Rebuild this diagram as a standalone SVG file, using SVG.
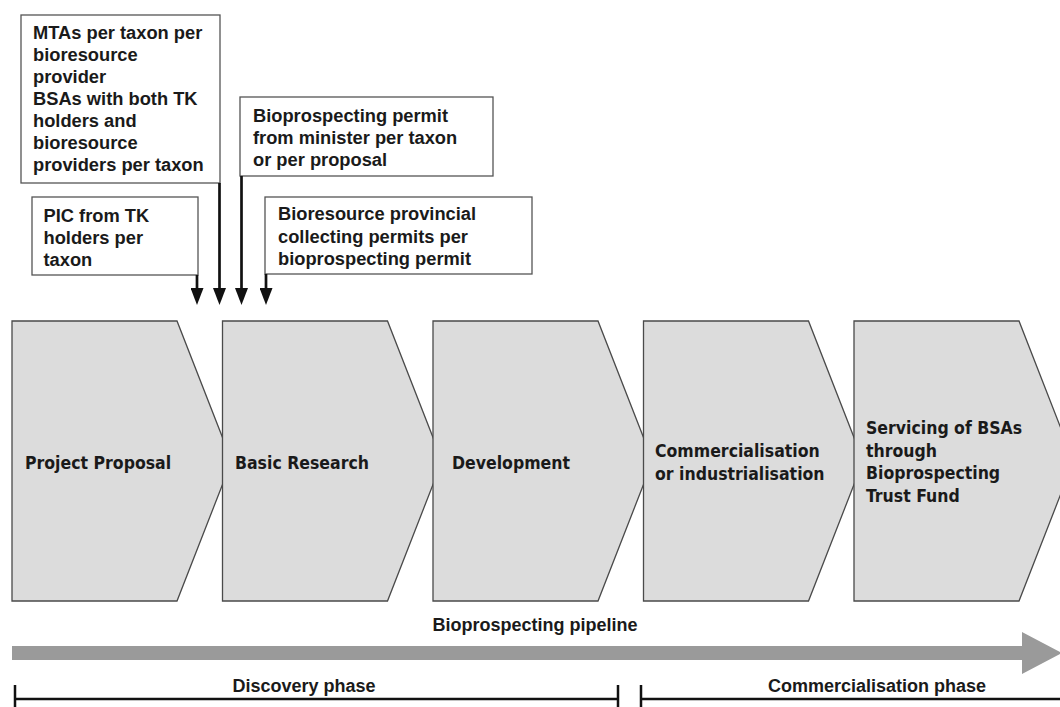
<svg xmlns="http://www.w3.org/2000/svg" width="1060" height="707" viewBox="0 0 1060 707">
<style>
.chev{fill:#dcdcdc;stroke:#4a4a4a;stroke-width:1.3}
.ct{font-family:"DejaVu Sans Condensed","DejaVu Sans",Tahoma,sans-serif;font-stretch:condensed;font-weight:bold;font-size:17.5px;fill:#1a1a1a}
.box{fill:#ffffff;stroke:#555555;stroke-width:1.3}
.bt{font-family:"Liberation Sans",Arial,sans-serif;font-weight:bold;font-size:18.3px;fill:#1a1a1a}
.conn{stroke:#111111;stroke-width:2.7;fill:none}
.brk{stroke:#111111;stroke-width:2.5;fill:none}
.lt{font-family:"Liberation Sans",Arial,sans-serif;font-weight:bold;font-size:18px;fill:#1a1a1a;text-anchor:middle}
</style>
<defs>
<marker id="ah" markerUnits="userSpaceOnUse" markerWidth="17" markerHeight="13" refX="2" refY="6.5" orient="auto" viewBox="0 0 17 13">
<path d="M0,0 L17,6.5 L0,13 Z" fill="#111111"/>
</marker>
</defs>
<rect width="1060" height="707" fill="#ffffff"/>

<g id="stage1">
<path class="chev" d="M12,321 H177 L231.7,461 L177,601 H12 Z"/>
<text class="ct" x="25" y="469">Project Proposal</text>
</g>
<g id="stage2">
<path class="chev" d="M222.5,321 H387.5 L442.2,461 L387.5,601 H222.5 Z"/>
<text class="ct" x="235" y="469">Basic Research</text>
</g>
<g id="stage3">
<path class="chev" d="M433,321 H598 L652.7,461 L598,601 H433 Z"/>
<text class="ct" x="452" y="469">Development</text>
</g>
<g id="stage4">
<path class="chev" d="M643.5,321 H808.5 L863.2,461 L808.5,601 H643.5 Z"/>
<text class="ct" x="655" y="457">Commercialisation</text>
<text class="ct" x="655" y="480">or industrialisation</text>
</g>
<g id="stage5">
<path class="chev" d="M854,321 H1019 L1073.7,461 L1019,601 H854 Z"/>
<text class="ct" x="866" y="434">Servicing of BSAs</text>
<text class="ct" x="866" y="456.5">through</text>
<text class="ct" x="866" y="479">Bioprospecting</text>
<text class="ct" x="866" y="501.5">Trust Fund</text>
</g>

<g id="req-mta">
<rect class="box" x="21" y="15" width="199" height="168"/>
<text class="bt" x="33" y="39">MTAs per taxon per</text>
<text class="bt" x="33" y="61">bioresource</text>
<text class="bt" x="33" y="83">provider</text>
<text class="bt" x="33" y="105">BSAs with both TK</text>
<text class="bt" x="33" y="127">holders and</text>
<text class="bt" x="33" y="149">bioresource</text>
<text class="bt" x="33" y="171">providers per taxon</text>
</g>
<g id="req-pic">
<rect class="box" x="32" y="197" width="166" height="78"/>
<text class="bt" x="43.5" y="221.5">PIC from TK</text>
<text class="bt" x="43.5" y="243.5">holders per</text>
<text class="bt" x="43.5" y="265.5">taxon</text>
</g>
<g id="req-permit">
<rect class="box" x="240" y="97" width="253" height="79"/>
<text class="bt" x="253" y="122">Bioprospecting permit</text>
<text class="bt" x="253" y="144">from minister per taxon</text>
<text class="bt" x="253" y="166">or per proposal</text>
</g>
<g id="req-provincial">
<rect class="box" x="265" y="197" width="267" height="77"/>
<text class="bt" x="278" y="220">Bioresource provincial</text>
<text class="bt" x="278" y="242.5">collecting permits per</text>
<text class="bt" x="278" y="265">bioprospecting permit</text>
</g>

<g id="connectors">
<line class="conn" x1="197" y1="275" x2="197" y2="290" marker-end="url(#ah)"/>
<line class="conn" x1="219.5" y1="183" x2="219.5" y2="290" marker-end="url(#ah)"/>
<line class="conn" x1="241.5" y1="176" x2="241.5" y2="290" marker-end="url(#ah)"/>
<line class="conn" x1="266" y1="274" x2="266" y2="290" marker-end="url(#ah)"/>
</g>

<g id="pipeline">
<path d="M12,646 H1022 V632 L1062,653 L1022,674 V660 H12 Z" fill="#9a9a9a"/>
<text class="lt" x="535" y="631">Bioprospecting pipeline</text>
</g>
<g id="discovery-phase">
<path class="brk" d="M15,699 H618 M15,685 V707 M618,685 V707"/>
<text class="lt" x="304" y="692">Discovery phase</text>
</g>
<g id="commercialisation-phase">
<path class="brk" d="M641,699 H1060 M641,685 V707"/>
<text class="lt" x="877" y="692">Commercialisation phase</text>
</g>
</svg>
